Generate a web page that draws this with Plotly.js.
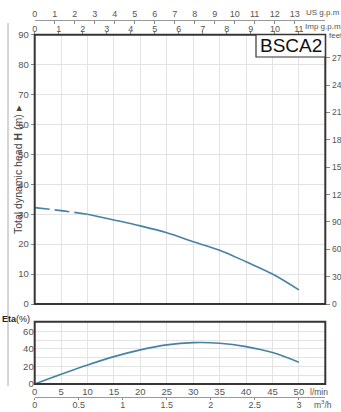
<!DOCTYPE html>
<html><head><meta charset="utf-8">
<script src="https://cdn.plot.ly/plotly-3.0.1.min.js"></script>
<style>html,body{margin:0;padding:0;background:#fff;}#c{width:341px;height:412px;}</style>
</head><body><div id="c"></div>
<script>
// Data
const flowLmin = [0,5,10,15,20,25,30,35,40,45,50];
const headM    = [32.2,31.2,30.0,28.1,26.1,23.8,20.8,18.0,14.1,10.0,4.7];
const etaPct   = [0,11.1,21.7,31.2,38.9,44.6,47.2,46.5,42.6,35.8,24.8];
const dashedUntil = 3; // first points (0..10 l/min) drawn dashed
const lminTicks = [0,5,10,15,20,25,30,35,40,45,50];
const m3hTicks = [0,0.5,1,1.5,2,2.5,3];
const usTicks = [0,1,2,3,4,5,6,7,8,9,10,11,12,13];
const impTicks = [0,1,2,3,4,5,6,7,8,9,10,11];
const feetTicks = [0,30,60,90,120,150,180,210,240,270];
const headTicks = [0,10,20,30,40,50,60,70,80,90];
const etaTicks = [0,10,20,30,40,50,60,70];
const etaTickText = ['0','','20','','40','','60',''];
const modelName = 'BSCA2';

const W=341,H=412;
const px=x=>x/W, py=y=>(H-y)/H;
const X0=34.7, X1=325.3;
const mainTop=34.7, mainBot=304, etaTop=321.7, etaBot=384;
const xmax=55;
const lineCol='#4682a6', frameCol='#3a3333', gridCol='#e3e3e3', txtCol='#555';
const font={family:'Liberation Sans, Arial, sans-serif',size:9.5,color:txtCol};
const tfont={family:'Liberation Sans, Arial, sans-serif',size:9,color:txtCol};
const sfont={family:'Liberation Sans, Arial, sans-serif',size:8.5,color:txtCol};
const ufont={family:'Liberation Sans, Arial, sans-serif',size:8,color:txtCol};

const helper=(xa,ya,xv,yv)=>({x:[xv],y:[yv],xaxis:xa,yaxis:ya,mode:'markers',marker:{opacity:0,size:1},hoverinfo:'skip'});
const traces=[
 {x:flowLmin.slice(0,dashedUntil),y:headM.slice(0,dashedUntil),xaxis:'x',yaxis:'y',mode:'lines',
  line:{color:lineCol,width:1.6,dash:'15px,5px',shape:'spline'},hoverinfo:'skip'},
 {x:flowLmin.slice(dashedUntil-1),y:headM.slice(dashedUntil-1),xaxis:'x',yaxis:'y',mode:'lines',
  line:{color:lineCol,width:1.6,shape:'spline'},hoverinfo:'skip'},
 {x:flowLmin,y:etaPct,xaxis:'x2',yaxis:'y3',mode:'lines',
  line:{color:lineCol,width:1.6,shape:'spline'},hoverinfo:'skip'},
 helper('x','y2',lminTicks[0],feetTicks[0]),
 helper('x4','y',impTicks[0],headTicks[0]),
 helper('x5','y',usTicks[0],headTicks[0]),
 helper('x3','y3',m3hTicks[0],etaTicks[0])
];

const dom=[px(X0),px(X1)];
const layout={
 width:W,height:H,margin:{l:0,r:0,t:0,b:0},showlegend:false,
 paper_bgcolor:'#fff',plot_bgcolor:'#fff',font:font,
 xaxis:{domain:dom,anchor:'y',range:[0,xmax],tickvals:lminTicks.concat([55]),showticklabels:false,ticks:'',
   showgrid:true,gridcolor:gridCol,gridwidth:1,zeroline:false,showline:false},
 yaxis:{domain:[py(mainBot),py(mainTop)],anchor:'x',range:[0,90],tickvals:headTicks,ticks:'outside',ticklen:3,
   tickcolor:'#888',showgrid:true,gridcolor:gridCol,zeroline:false,showline:false,tickfont:font},
 yaxis2:{overlaying:'y',side:'right',anchor:'x',range:[0,90*3.28084],tickvals:feetTicks,ticks:'outside',ticklen:4,
   tickcolor:'#888',showgrid:false,zeroline:false,showline:false,tickfont:sfont,ticklabelstandoff:0},
 xaxis4:{overlaying:'x',anchor:'y',side:'top',range:[0,xmax/4.546],tickvals:impTicks,ticks:'outside',ticklen:3,
   tickcolor:'#888',showgrid:false,zeroline:false,showline:false,tickfont:tfont,ticklabelstandoff:-5},
 xaxis5:{overlaying:'x',anchor:'free',position:py(20.2),side:'top',range:[0,xmax/3.785],tickvals:usTicks,ticks:'inside',ticklen:3,
   tickcolor:'#888',showgrid:false,zeroline:false,showline:true,linecolor:'#999',linewidth:1,tickfont:tfont},
 xaxis2:{domain:dom,anchor:'y3',range:[0,xmax],tickvals:lminTicks,ticks:'',showgrid:true,gridcolor:gridCol,
   zeroline:false,showline:false,tickfont:font},
 yaxis3:{domain:[py(etaBot),py(etaTop)],anchor:'x2',range:[0,71],tickvals:etaTicks,ticktext:etaTickText,ticks:'',
   showgrid:true,gridcolor:gridCol,zeroline:false,showline:false,tickfont:font},
 xaxis3:{overlaying:'x2',anchor:'free',position:py(397.3),side:'bottom',range:[0,xmax*0.06],tickvals:m3hTicks,
   ticks:'outside',ticklen:2,tickcolor:'#888',showgrid:false,zeroline:false,showline:true,linecolor:'#999',tickfont:tfont,ticklabelstandoff:-3},
 shapes:[
  {type:'rect',xref:'paper',yref:'paper',x0:px(X0),x1:px(X1),y0:py(mainBot),y1:py(mainTop),line:{color:frameCol,width:2}},
  {type:'rect',xref:'paper',yref:'paper',x0:px(X0),x1:px(X1),y0:py(etaBot),y1:py(etaTop),line:{color:frameCol,width:2}},
  {type:'rect',xref:'paper',yref:'paper',x0:px(256),x1:px(X1),y0:py(57),y1:py(mainTop),fillcolor:'#fff',line:{color:frameCol,width:1.2},layer:'above'},
  {type:'line',xref:'paper',yref:'paper',x0:px(8),x1:px(8),y0:py(386),y1:py(23),line:{color:'#aaa',width:1}}
 ],
 annotations:[
  {xref:'paper',yref:'paper',x:px(290.5),y:py(46),xanchor:'center',yanchor:'middle',text:modelName,showarrow:false,font:{family:'Liberation Sans, Arial',size:19,color:'#111'}},
  {xref:'paper',yref:'paper',x:px(341),y:py(13),xanchor:'right',yanchor:'middle',text:'US g.p.m',showarrow:false,font:ufont,bgcolor:'#fff',borderpad:0},
  {xref:'paper',yref:'paper',x:px(303),y:py(26.5),xanchor:'left',yanchor:'middle',text:'Imp g.p.m',showarrow:false,font:ufont},
  {xref:'paper',yref:'paper',x:px(327),y:py(36),xanchor:'left',yanchor:'middle',text:'feet',showarrow:false,font:ufont},
  {xref:'paper',yref:'paper',x:px(308),y:py(392),xanchor:'left',yanchor:'middle',text:'l/min',showarrow:false,font:sfont},
  {xref:'paper',yref:'paper',x:px(312),y:py(404),xanchor:'left',yanchor:'middle',text:'m<sup>3</sup>/h',showarrow:false,font:sfont},
  {xref:'paper',yref:'paper',x:px(0),y:py(319),xanchor:'left',yanchor:'middle',text:'<b>Eta</b>(%)',showarrow:false,font:{family:'Liberation Sans, Arial',size:9,color:'#222'}},
  {xref:'paper',yref:'paper',x:px(18),y:py(170),xanchor:'center',yanchor:'middle',textangle:-90,text:'Total dynamic head <b>H</b> (m) ▸',showarrow:false,font:{family:'Liberation Sans, Arial',size:10.5,color:'#444'}},
  {xref:'paper',yref:'paper',x:px(170),y:py(416),xanchor:'center',yanchor:'middle',text:'Flow  rate  <b>Q</b> ▸',showarrow:false,font:{family:'Liberation Sans, Arial',size:11,color:'#444'}}
 ]
};
Plotly.newPlot('c',traces,layout,{staticPlot:true,displayModeBar:false});
</script></body></html>
